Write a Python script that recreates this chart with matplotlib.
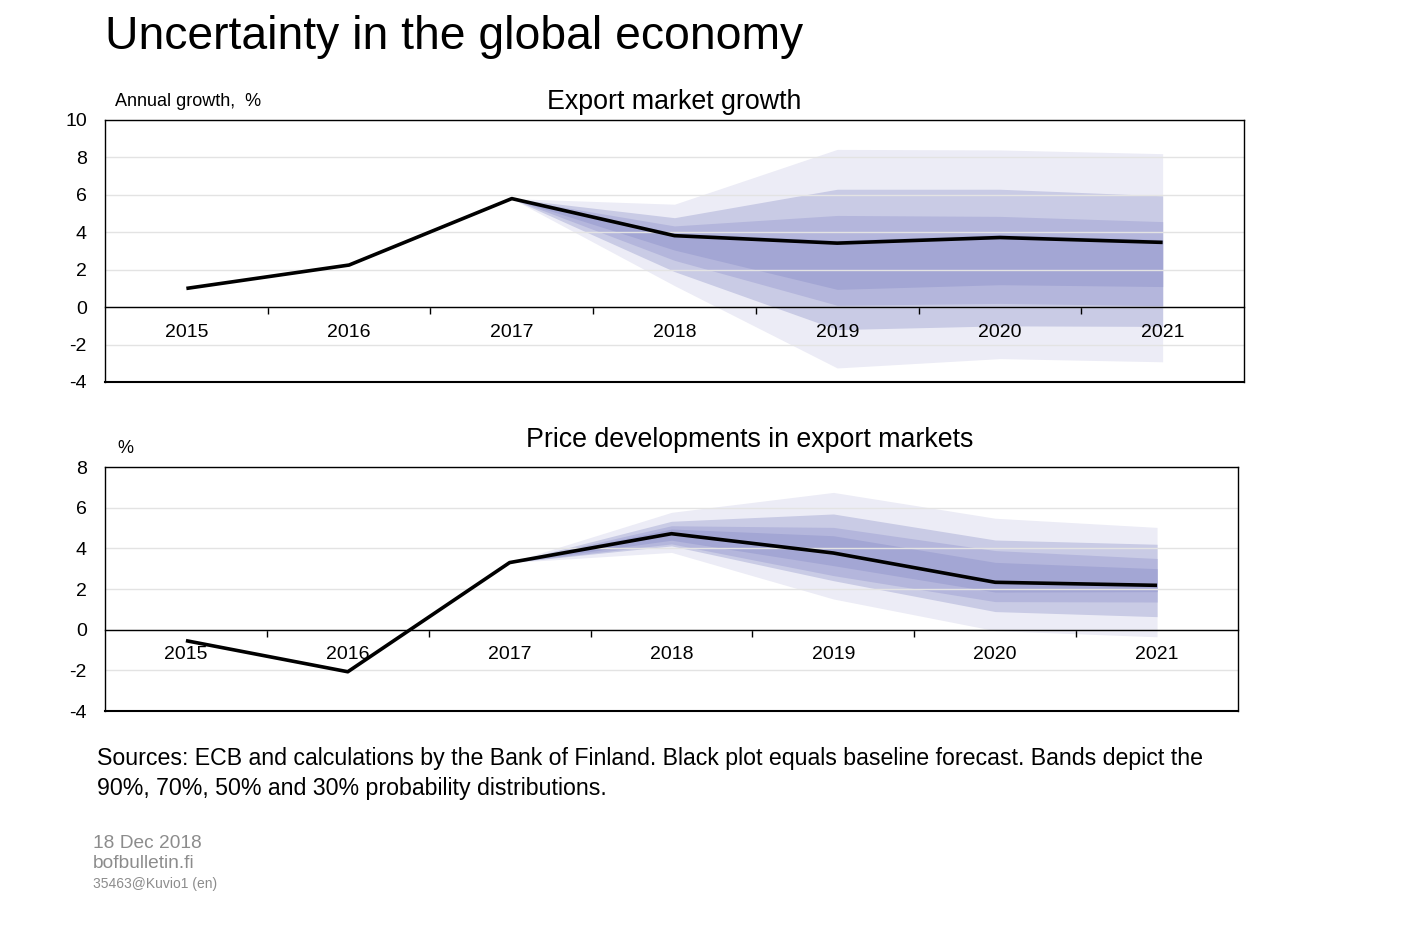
import matplotlib
matplotlib.use("Agg")
import matplotlib.pyplot as plt
from matplotlib.ticker import MultipleLocator, FixedLocator

plt.rcParams['font.family'] = ['Liberation Sans', 'DejaVu Sans']
plt.rcParams['axes.unicode_minus'] = False

years = ['2015', '2016', '2017', '2018', '2019', '2020', '2021']

# Export market growth (annual growth, %)
growth_line = [1.0, 2.25, 5.8, 3.82, 3.42, 3.72, 3.46]
# bands for forecast years 2017-2021
growth_u90 = [5.8, 5.5, 8.43, 8.4, 8.2]
growth_u70 = [5.8, 4.78, 6.3, 6.3, 5.95]
growth_u50 = [5.8, 4.34, 4.9, 4.85, 4.57]
growth_u30 = [5.8, 3.97, 3.57, 3.87, 3.61]
growth_l30 = [5.8, 3.05, 0.95, 1.2, 1.1]
growth_l50 = [5.8, 2.5, 0.1, 0.2, 0.08]
growth_l70 = [5.8, 1.9, -1.2, -1.0, -1.03]
growth_l90 = [5.8, 1.15, -3.25, -2.75, -2.92]

# Price developments in export markets (%)
price_line = [-0.54, -2.07, 3.3, 4.72, 3.77, 2.33, 2.18]
price_u90 = [3.3, 5.77, 6.75, 5.48, 5.03]
price_u70 = [3.3, 5.33, 5.69, 4.41, 4.2]
price_u50 = [3.3, 5.11, 5.03, 3.89, 3.5]
price_u30 = [3.3, 4.95, 4.62, 3.31, 3.0]
price_l30 = [3.3, 4.4, 3.15, 1.85, 1.87]
price_l50 = [3.3, 4.22, 2.66, 1.38, 1.36]
price_l70 = [3.3, 4.12, 2.41, 0.89, 0.64]
price_l90 = [3.3, 3.8, 1.51, -0.05, -0.35]

band_colors = ['#ececf6', '#c9cbe5', '#b4b6dc', '#a3a6d4']

W, H = 1417, 925
fig = plt.figure(figsize=(W / 100, H / 100), dpi=100)


def make_axes(rect, line, uppers, lowers, ylim):
    ax = fig.add_axes(rect)
    x_all = list(range(len(years)))
    x_fc = x_all[2:]
    for up, lo, c in zip(uppers, lowers, band_colors):
        ax.fill_between(x_fc, lo, up, color=c, lw=0, zorder=0.2)
    ax.plot(x_all, line, color='black', lw=2.6, zorder=3, solid_capstyle='butt')
    ax.set_xlim(-0.5, len(years) - 0.5)
    ax.set_ylim(*ylim)
    ax.yaxis.set_major_locator(MultipleLocator(2))
    ax.grid(axis='y', color='#e3e3e3', lw=1)
    ax.set_axisbelow(True)
    ax.spines['bottom'].set_position(('data', 0))
    for s in ax.spines.values():
        s.set_linewidth(1)
        s.set_color('black')
    ax.axhline(ylim[0], color='black', lw=1.5, clip_on=False, zorder=4)
    ax.xaxis.set_major_locator(FixedLocator(x_all))
    ax.set_xticklabels(years)
    ax.xaxis.set_minor_locator(FixedLocator([i + 0.5 for i in range(len(years) - 1)]))
    ax.tick_params(axis='x', which='major', length=0, pad=12, labelsize=14)
    ax.tick_params(axis='x', which='minor', length=5, width=1, direction='out')
    ax.tick_params(axis='y', length=0, pad=13, labelsize=14)
    return ax


ax1 = make_axes([105 / W, 1 - 382 / H, 1139 / W, 262 / H], growth_line,
                [growth_u90, growth_u70, growth_u50, growth_u30],
                [growth_l90, growth_l70, growth_l50, growth_l30], (-4, 10))
ax2 = make_axes([105 / W, 1 - 711 / H, 1133 / W, 244 / H], price_line,
                [price_u90, price_u70, price_u50, price_u30],
                [price_l90, price_l70, price_l50, price_l30], (-4, 8))

fig.text(105 / W, 1 - 37 / H, 'Uncertainty in the global economy', fontsize=33.3,
         ha='left', va='center')
fig.text(674 / W, 1 - 102 / H, 'Export market growth', fontsize=19.3, ha='center', va='center')
fig.text(115 / W, 1 - 101 / H, 'Annual growth,  %', fontsize=13, ha='left', va='center')
fig.text(750 / W, 1 - 440 / H, 'Price developments in export markets', fontsize=19.3,
         ha='center', va='center')
fig.text(117 / W, 1 - 449 / H, '%', fontsize=13, ha='left', va='center')

fig.text(97 / W, 1 - 759 / H,
         'Sources: ECB and calculations by the Bank of Finland. Black plot equals baseline forecast. Bands depict the',
         fontsize=16.7, ha='left', va='center')
fig.text(97 / W, 1 - 789 / H, '90%, 70%, 50% and 30% probability distributions.',
         fontsize=16.7, ha='left', va='center')

fig.text(93 / W, 1 - 843 / H, '18 Dec 2018', fontsize=13.8, color='#8c8c8c', ha='left', va='center')
fig.text(93 / W, 1 - 864 / H, 'bofbulletin.fi', fontsize=13.8, color='#8c8c8c', ha='left', va='center')
fig.text(93 / W, 1 - 884 / H, '35463@Kuvio1 (en)', fontsize=10, color='#8c8c8c', ha='left', va='center')

fig.savefig('out.png', dpi=100)
